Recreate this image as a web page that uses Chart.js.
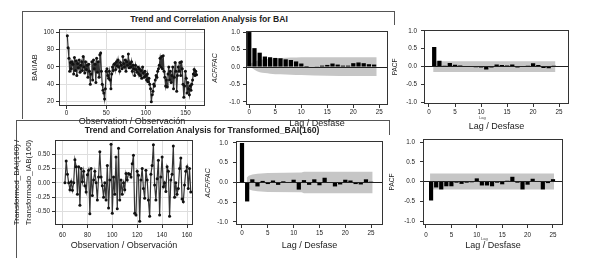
<!DOCTYPE html>
<html>
<head>
<meta charset="utf-8">
<script src="https://cdn.jsdelivr.net/npm/chart.js@4.4.1/dist/chart.umd.min.js"></script>
<style>
  body { margin: 0; width: 589px; height: 258px; background: #fff; position: relative; overflow: hidden;
         font-family: "Liberation Sans", Arial, sans-serif; color: #222; }
  canvas { position: absolute; }
  .ln { position: absolute; background: #555; }
  .ttl { position: absolute; width: 320px; text-align: center; font-weight: bold; font-size: 8.6px; line-height: 10px; white-space: nowrap; }
  .tiny { position: absolute; font-size: 4px; line-height: 4px; color: #444; }
</style>
</head>
<body>
<!-- frames around the two groups -->
<div class="ln" style="left:22px;top:11px;width:372px;height:1px"></div>
<div class="ln" style="left:22px;top:11px;width:1px;height:108px"></div>
<div class="ln" style="left:394px;top:11px;width:1px;height:14px"></div>
<div class="ln" style="left:16px;top:120px;width:373px;height:1px"></div>
<div class="ln" style="left:16px;top:120px;width:1px;height:138px"></div>
<div class="ln" style="left:389px;top:120px;width:1px;height:15px"></div>

<div class="ttl" style="left:49px;top:14px">Trend and Correlation Analysis for BAI</div>

<canvas id="serieBai" width="186" height="106" style="left:24px;top:22px"></canvas>
<canvas id="acfBai" width="194" height="106" style="left:200px;top:24px"></canvas>
<canvas id="pacfBai" width="184" height="110" style="left:390px;top:22px"></canvas>

<canvas id="serieTr" width="190" height="124" style="left:8px;top:130px"></canvas>
<canvas id="acfTr" width="192" height="124" style="left:196px;top:130px"></canvas>
<canvas id="pacfTr" width="180" height="126" style="left:388px;top:128px"></canvas>

<div class="ttl" style="left:42px;top:125px">Trend and Correlation Analysis for Transformed_BAI(160)</div>
<div class="tiny" style="left:479px;top:116px">Lag</div>
<div class="tiny" style="left:481px;top:237px">Lag</div>

<script>
// BAI series, observations 1..164
const baiStart = 1;
const baiValues = [
  96, 82, 70, 55, 65, 58, 66, 63, 52, 71,
  56, 67, 50, 64, 59, 68, 54, 62, 66, 56,
  72, 60, 53, 66, 57, 62, 48, 63, 55, 40,
  52, 66, 45, 68, 58, 63, 42, 70, 54, 66,
  48, 74, 76, 55, 40, 33, 30, 23, 35, 55,
  58, 50, 47, 55, 45, 35, 52, 60, 56, 63,
  64, 57, 66, 61, 68, 60, 55, 65, 62, 58,
  72, 64, 60, 68, 55, 66, 62, 75, 59, 64,
  60, 66, 55, 62, 58, 50, 62, 57, 54, 60,
  52, 58, 50, 56, 47, 60, 53, 48, 55, 50,
  45, 52, 43, 47, 40, 35, 20, 28, 32, 40,
  38, 45, 50, 48, 55, 58, 62, 70, 60, 72,
  58, 73, 55, 48, 38, 45, 37, 52, 60, 45,
  55, 42, 50, 60, 35, 48, 65, 55, 32, 50,
  60, 55, 65, 50, 66, 58, 40, 25, 38, 55,
  47, 30, 42, 35, 28, 38, 33, 40, 45, 52,
  57, 50, 55, 51
];

// Transformed_BAI(160), observations 62..163
const trStart = 62;
const trValues = [
  0.00, 0.38, 0.15, 0.00, -0.12, 0.02, -0.13, 0.00, 0.40, 0.28,
  -0.20, 0.28, -0.39, 0.25, 0.02, 0.20, -0.05, -0.16, 0.14, 0.22,
  -0.54, 0.25, -0.22, 0.05, 0.20, 0.00, -0.30, 0.10, 0.54, 0.10,
  -0.05, -0.25, 0.00, -0.30, 0.30, -0.44, 0.05, 0.67, -0.53, 0.10,
  -0.20, 0.45, -0.45, 0.60, -0.30, 0.05, -0.20, 0.00, -0.12, 0.16,
  0.05, 0.16, 0.15, 0.10, 0.33, 0.48, -0.53, -0.56, 0.20, 0.13,
  -0.67, 0.05, 0.25, -0.10, -0.27, 0.22, 0.05, -0.30, -0.58, 0.15,
  0.30, 0.66, -0.04, -0.30, 0.07, 0.39, -0.56, 0.10, 0.45, -0.07,
  0.00, -0.15, 0.28, 0.20, -0.58, 0.05, 0.15, 0.64, -0.25, 0.00,
  -0.20, -0.10, 0.25, 0.43, -0.28, -0.33, -0.04, 0.20, 0.28, -0.10,
  0.25, -0.16
];

// autocorrelations
const acfBaiLags = [0, 1, 2, 3, 4, 5, 6, 7, 8, 9, 10, 11, 12, 13, 14, 15, 16, 17, 18, 19, 20, 21, 22, 23, 24];
const acfBaiValues = [1.0, 0.54, 0.41, 0.30, 0.28, 0.26, 0.25, 0.22, 0.20, 0.16, 0.10, 0.03, 0.00, 0.01, 0.04, 0.06, 0.10, 0.07, 0.04, 0.04, 0.11, 0.13, 0.11, 0.08, 0.07];
const acfBaiBandLags = [0.3, 1, 1.5, 2, 3, 4, 6, 8, 10, 15, 20, 24.5];
const acfBaiBandUp = [0.10, 0.15, 0.18, 0.20, 0.22, 0.24, 0.26, 0.27, 0.28, 0.28, 0.28, 0.28];
const acfBaiBandLo = [0.00, -0.08, -0.12, -0.15, -0.17, -0.19, -0.21, -0.22, -0.23, -0.25, -0.26, -0.26];

const pacfBaiLags = [1, 2, 3, 4, 5, 6, 7, 8, 9, 10, 11, 12, 13, 14, 15, 16, 17, 18, 19, 20, 21, 22, 23, 24];
const pacfBaiValues = [0.55, 0.16, 0.02, 0.10, 0.05, 0.03, 0.01, 0.00, -0.02, -0.03, -0.08, -0.03, 0.06, 0.04, 0.03, 0.06, -0.03, -0.01, 0.02, 0.09, 0.04, -0.04, -0.05, 0.02];
const pacfBaiBandLags = [0.8, 24.3];
const pacfBaiBandUp = [0.15, 0.15];
const pacfBaiBandLo = [-0.15, -0.15];

const acfTrLags = [0, 1, 2, 3, 4, 5, 6, 7, 8, 9, 10, 11, 12, 13, 14, 15, 16, 17, 18, 19, 20, 21, 22, 23, 24, 25];
const acfTrValues = [1.0, -0.48, 0.08, -0.10, 0.04, -0.04, 0.05, -0.06, 0.03, -0.01, 0.07, -0.18, 0.06, -0.06, 0.08, -0.07, 0.12, -0.01, -0.10, -0.05, 0.07, 0.05, -0.04, -0.05, 0.08, 0.02];
const acfTrBandLags = [0.9, 1.3, 2, 3, 5, 11.5, 12, 25.3];
const acfTrBandUp = [0.12, 0.17, 0.20, 0.22, 0.24, 0.25, 0.27, 0.27];
const acfTrBandLo = [-0.12, -0.17, -0.20, -0.22, -0.24, -0.25, -0.27, -0.27];

const pacfTrLags = [1, 2, 3, 4, 5, 6, 7, 8, 9, 10, 11, 12, 13, 14, 15, 16, 17, 18, 19, 20, 21, 22, 23, 24, 25];
const pacfTrValues = [-0.48, -0.15, -0.20, -0.12, -0.12, -0.03, -0.06, -0.03, -0.02, 0.08, -0.10, -0.10, -0.12, -0.03, -0.07, 0.02, 0.12, -0.03, -0.20, -0.08, 0.07, -0.01, -0.20, -0.04, 0.06];
const pacfTrBandLags = [0.8, 25.2];
const pacfTrBandUp = [0.20, 0.20];
const pacfTrBandLo = [-0.20, -0.20];

// tick labels
const baiXTicks = [0, 50, 100, 150];
const baiYTicks = [20, 40, 60, 80, 100];
const trXTicks = [60, 80, 100, 120, 140, 160];
const trYTicks = [-0.5, -0.25, 0, 0.25, 0.5];
const trYLabels = ["-0.50", "-0.25", "0.00", "0.25", "0.50"];
const lagTicks = [0, 5, 10, 15, 20, 25];
const corrTicks = [-1, -0.5, 0, 0.5, 1];
const corrLabels = ["-1.0", "-0.5", "0.0", "0.5", "1.0"];

Chart.defaults.font.family = "'Liberation Sans', Arial, sans-serif";
Chart.defaults.color = "#222";
Chart.defaults.animation = false;

// outline around the plot area
const boxPlugin = {
  id: "box",
  afterDraw(chart) {
    const a = chart.chartArea;
    const c = chart.ctx;
    c.save();
    c.strokeStyle = "#333";
    c.lineWidth = 1;
    c.strokeRect(Math.round(a.left) + 0.5, Math.round(a.top) + 0.5,
      Math.round(a.right - a.left) - 1, Math.round(a.bottom - a.top) - 1);
    c.restore();
  }
};

function xAxis(o) {
  return {
    type: "linear", min: o.min, max: o.max, offset: false,
    afterBuildTicks: (s) => { s.ticks = o.ticks.map((v) => ({ value: v })); },
    afterFit: (s) => { s.height = o.size; },
    border: { display: false },
    grid: { offset: false, drawOnChartArea: !!o.grid, color: "#dedede", tickColor: "#333", tickLength: 3 },
    ticks: { padding: o.pad, font: { size: 6.3 }, maxRotation: 0, autoSkip: false,
      callback: (v, i) => (o.labels ? o.labels[i] : String(o.ticks[i])) },
    title: { display: true, text: o.title, font: { size: 9 }, padding: { top: 0, bottom: o.titlePad } }
  };
}

function yAxis(o) {
  return {
    type: "linear", min: o.min, max: o.max,
    afterBuildTicks: (s) => { s.ticks = o.ticks.map((v) => ({ value: v })); },
    afterFit: (s) => { s.width = o.size; },
    border: { display: false },
    grid: {
      z: o.zero ? 1 : -1,
      color: o.zero ? (c) => (c.tick && c.tick.value === 0 ? "#222" : "rgba(0,0,0,0)") : "#dedede",
      tickColor: "#333", tickLength: 3
    },
    ticks: { padding: o.pad, font: { size: 6.3 }, autoSkip: false,
      callback: (v, i) => (o.labels ? o.labels[i] : String(o.ticks[i])) },
    title: { display: true, text: o.title, font: o.font, padding: { top: o.titlePad, bottom: 0 } }
  };
}

function seriesChart(id, start, values, o) {
  const pts = values.map((v, i) => ({ x: start + i, y: v }));
  new Chart(document.getElementById(id), {
    type: "line",
    data: { datasets: [{ data: pts, borderColor: "#333", borderWidth: 1.2, pointRadius: 1.5,
      pointBackgroundColor: "#111", pointBorderWidth: 0, tension: 0 }] },
    options: {
      responsive: false,
      layout: { padding: o.padding },
      plugins: { legend: { display: false }, tooltip: { enabled: false } },
      scales: { x: xAxis(o.x), y: yAxis(o.y) }
    },
    plugins: [boxPlugin]
  });
}

function corrChart(id, lags, values, bandLags, bandUp, bandLo, o) {
  new Chart(document.getElementById(id), {
    type: "bar",
    data: {
      datasets: [
        { data: lags.map((l, i) => ({ x: l, y: values[i] })), backgroundColor: "#000", borderWidth: 0,
          barPercentage: 0.82, categoryPercentage: 1, order: 0 },
        { type: "line", data: bandLags.map((l, i) => ({ x: l, y: bandUp[i] })), fill: "+1",
          backgroundColor: "#c6c6c6", borderWidth: 0, pointRadius: 0,
          cubicInterpolationMode: o.smooth ? "monotone" : "default", tension: 0, order: 1 },
        { type: "line", data: bandLags.map((l, i) => ({ x: l, y: bandLo[i] })), fill: false,
          borderWidth: 0, pointRadius: 0, cubicInterpolationMode: o.smooth ? "monotone" : "default",
          tension: 0, order: 2 }
      ]
    },
    options: {
      responsive: false,
      layout: { padding: o.padding },
      plugins: { legend: { display: false }, tooltip: { enabled: false } },
      scales: { x: xAxis(o.x), y: yAxis(o.y) }
    },
    plugins: [boxPlugin]
  });
}

const lagTitle = "Lag / Desfase";
const obsTitle = "Observation / Observación";

seriesChart("serieBai", baiStart, baiValues, {
  padding: { top: 7, right: 5, left: 0, bottom: 0 },
  x: { min: -9.5, max: 174.7, ticks: baiXTicks, size: 22, pad: 0, grid: true, title: obsTitle, titlePad: 1 },
  y: { min: 15, max: 103.7, ticks: baiYTicks, size: 35, pad: 2, title: "BAI/IAB", font: { size: 7.5 }, titlePad: 6.5 }
});

corrChart("acfBai", acfBaiLags, acfBaiValues, acfBaiBandLags, acfBaiBandUp, acfBaiBandLo, {
  smooth: true,
  padding: { top: 7, right: 6, left: 0, bottom: 0 },
  x: { min: -0.63, max: 26.67, ticks: lagTicks, size: 25, pad: 0, title: lagTitle, titlePad: 1 },
  y: { min: -1.086, max: 1.03, ticks: corrTicks, labels: corrLabels, size: 46, pad: 3, zero: true,
       title: "ACF/FAC", font: { size: 7, style: "italic" }, titlePad: 11 }
});

corrChart("pacfBai", pacfBaiLags, pacfBaiValues, pacfBaiBandLags, pacfBaiBandUp, pacfBaiBandLo, {
  padding: { top: 7, right: 5, left: 0, bottom: 0 },
  x: { min: -0.96, max: 26.9, ticks: lagTicks, size: 28, pad: 1, title: lagTitle, titlePad: 0 },
  y: { min: -1.05, max: 1.03, ticks: corrTicks, labels: corrLabels, size: 34, pad: 4, zero: true,
       title: "PACF", font: { size: 6.5 }, titlePad: 1 }
});

seriesChart("serieTr", trStart, trValues, {
  padding: { top: 10, right: 5, left: 0, bottom: 0 },
  x: { min: 54, max: 164.8, ticks: trXTicks, size: 29, pad: 3, grid: true, title: obsTitle, titlePad: 3 },
  y: { min: -0.734, max: 0.744, ticks: trYTicks, labels: trYLabels, size: 47, pad: 2,
       title: ["Transformed_BAI(160) /", "Transformado_IAB(160)"], font: { size: 8, lineHeight: 1.5 }, titlePad: 3 }
});

corrChart("acfTr", acfTrLags, acfTrValues, acfTrBandLags, acfTrBandUp, acfTrBandLo, {
  padding: { top: 11, right: 5, left: 0, bottom: 0 },
  x: { min: -1.16, max: 27.3, ticks: lagTicks, size: 29, pad: 1, title: lagTitle, titlePad: 3 },
  y: { min: -1.076, max: 1.05, ticks: corrTicks, labels: corrLabels, size: 40, pad: 5, zero: true,
       title: "ACF/FAC", font: { size: 7, style: "italic" }, titlePad: 8 }
});

corrChart("pacfTr", pacfTrLags, pacfTrValues, pacfTrBandLags, pacfTrBandUp, pacfTrBandLo, {
  padding: { top: 11, right: 5, left: 0, bottom: 0 },
  x: { min: -0.59, max: 26.97, ticks: lagTicks, size: 29, pad: 3, title: lagTitle, titlePad: 3 },
  y: { min: -1.10, max: 1.076, ticks: corrTicks, labels: corrLabels, size: 35, pad: 5, zero: true,
       title: "PACF", font: { size: 6.5 }, titlePad: 0 }
});
</script>
</body>
</html>
